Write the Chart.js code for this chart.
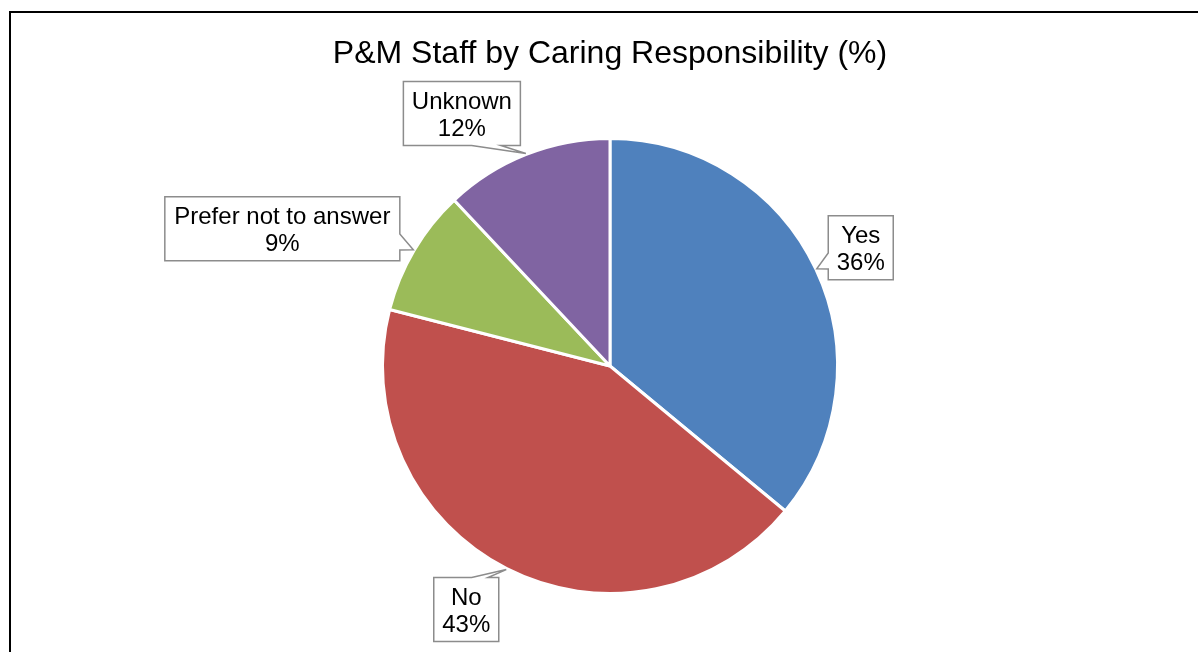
<!DOCTYPE html>
<html>
<head>
<meta charset="utf-8">
<script src="https://cdn.jsdelivr.net/npm/chart.js@4/dist/chart.umd.min.js"></script>
<style>
  html, body { margin: 0; padding: 0; background: #fff; }
  #wrap { width: 1198px; height: 652px; }
</style>
</head>
<body>
<div id="wrap"><canvas id="pie" width="1198" height="652"></canvas></div>
<script>
const categories = ['Yes', 'No', 'Prefer not to answer', 'Unknown'];
const percentages = [36, 43, 9, 12];
const sliceColours = ['#4F81BD', '#C0504D', '#9BBB59', '#8064A2'];
const chartTitle = 'P&M Staff by Caring Responsibility (%)';

// where each callout box sits relative to its pointer tip, and its width
const calloutPlacement = [
  { dx: 44, dy: -21, w: 65 },
  { dx: -40, dy: 40, w: 65 },
  { dx: -131, dy: -21, w: 235 },
  { dx: -64, dy: -40, w: 117 }
];

// outer black frame
const framePlugin = {
  id: 'frame',
  beforeDraw(chart) {
    const ctx = chart.ctx;
    ctx.save();
    ctx.fillStyle = '#fff';
    ctx.fillRect(0, 0, chart.width, chart.height);
    ctx.strokeStyle = '#000';
    ctx.lineWidth = 2;
    ctx.strokeRect(10, 12, chart.width + 40, chart.height + 40);
    ctx.restore();
  }
};

// rectangle callouts with a wedge pointing to the slice
const calloutPlugin = {
  id: 'callouts',
  afterDatasetsDraw(chart) {
    const ctx = chart.ctx;
    const arcs = chart.getDatasetMeta(0).data;
    const h = 64;
    ctx.save();
    arcs.forEach((arc, i) => {
      const p = arc.getProps(['x', 'y', 'startAngle', 'endAngle', 'outerRadius'], true);
      const mid = (p.startAngle + p.endAngle) / 2;
      const tx = p.x + Math.cos(mid) * (p.outerRadius + 1);
      const ty = p.y + Math.sin(mid) * (p.outerRadius + 1);
      const pl = calloutPlacement[i];
      const w = pl.w;
      const cx = tx + pl.dx, cy = ty + pl.dy;
      const l = cx - w / 2, r = cx + w / 2, t = cy - h / 2, b = cy + h / 2;
      const dxPos = tx - cx, dyPos = ty - cy;
      const vertical = Math.abs(dyPos) - Math.abs(dxPos * h / w) > 0;
      const pts = [];
      if (vertical) {
        const a = l + w * (dxPos > 0 ? 7 : 2) / 12;
        const c = l + w * (dxPos > 0 ? 10 : 5) / 12;
        if (dyPos < 0) {
          pts.push([l, t], [a, t], [tx, ty], [c, t], [r, t], [r, b], [l, b]);
        } else {
          pts.push([l, t], [r, t], [r, b], [c, b], [tx, ty], [a, b], [l, b]);
        }
      } else {
        const a = t + h * (dyPos > 0 ? 7 : 2) / 12;
        const c = t + h * (dyPos > 0 ? 10 : 5) / 12;
        if (dxPos > 0) {
          pts.push([l, t], [r, t], [r, a], [tx, ty], [r, c], [r, b], [l, b]);
        } else {
          pts.push([l, t], [r, t], [r, b], [l, b], [l, c], [tx, ty], [l, a]);
        }
      }
      ctx.beginPath();
      pts.forEach(([x, y], k) => k ? ctx.lineTo(x, y) : ctx.moveTo(x, y));
      ctx.closePath();
      ctx.fillStyle = '#fff';
      ctx.fill();
      ctx.strokeStyle = '#8C8C8C';
      ctx.lineWidth = 1.5;
      ctx.stroke();

      ctx.fillStyle = '#000';
      ctx.font = '24px "Liberation Sans", Arial, sans-serif';
      ctx.textAlign = 'center';
      ctx.textBaseline = 'middle';
      ctx.fillText(categories[i], cx, cy - 11);
      ctx.fillText(percentages[i] + '%', cx, cy + 16);
    });
    ctx.restore();
  }
};

new Chart(document.getElementById('pie'), {
  type: 'pie',
  data: {
    labels: categories,
    datasets: [{
      data: percentages,
      backgroundColor: sliceColours,
      borderColor: '#fff',
      borderWidth: 3
    }]
  },
  options: {
    responsive: false,
    animation: false,
    layout: { padding: { left: 22, right: 0, top: 0, bottom: 57 } },
    plugins: {
      legend: { display: false },
      tooltip: { enabled: false },
      title: {
        display: true,
        text: chartTitle,
        color: '#000',
        font: { family: '"Liberation Sans", Arial, sans-serif', size: 32, weight: 'normal', lineHeight: 1.2 },
        padding: { top: 34.8, bottom: 63.8 }
      }
    }
  },
  plugins: [framePlugin, calloutPlugin]
});
</script>
</body>
</html>
